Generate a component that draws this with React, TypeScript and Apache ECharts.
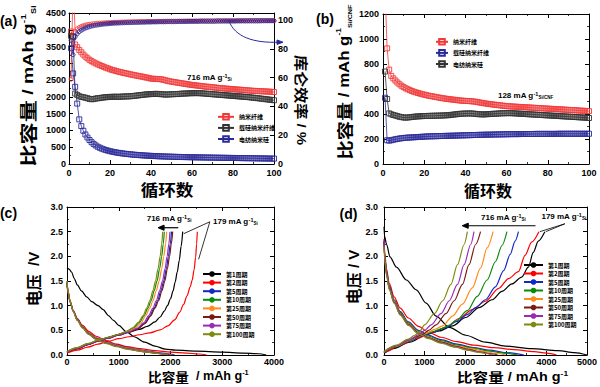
import React, { useEffect, useRef } from 'react';
import * as echarts from 'echarts';

const FONT_EN = "'Liberation Sans', Arial, Helvetica, sans-serif";
const FONT_CN = "'Noto Sans CJK SC', 'Noto Sans', sans-serif";

// ---------- panel (a): cycling, 716 mA/g ----------
const NAMES_A = ['纳米纤维', '载硅纳米纤维', '电纺纳米硅'];
const RED_A = [
  3950, 3800, 3560, 3480, 3400, 3330, 3260, 3200, 3150, 3105,
  3065, 3030, 3000, 2970, 2945, 2920, 2895, 2870, 2850, 2825,
  2805, 2790, 2770, 2755, 2740, 2725, 2710, 2700, 2685, 2670,
  2660, 2645, 2635, 2620, 2610, 2600, 2585, 2575, 2560, 2545,
  2540, 2535, 2535, 2530, 2525, 2510, 2495, 2480, 2465, 2455,
  2445, 2435, 2425, 2415, 2405, 2395, 2385, 2375, 2365, 2355,
  2350, 2340, 2335, 2325, 2320, 2310, 2305, 2300, 2290, 2285,
  2280, 2275, 2265, 2260, 2255, 2250, 2245, 2240, 2235, 2230,
  2225, 2220, 2215, 2210, 2205, 2200, 2195, 2190, 2185, 2180,
  2178, 2175, 2170, 2168, 2165, 2160, 2158, 2155, 2150, 2145,
];
const BLACK_A = [
  3820, 3780, 2100, 2060, 2020, 2000, 1990, 1975, 1960, 1940,
  1930, 1935, 1950, 1960, 1965, 1975, 1985, 1990, 1995, 2000,
  2000, 2005, 2005, 2000, 2005, 2010, 2010, 2015, 2015, 2020,
  2025, 2030, 2040, 2045, 2055, 2060, 2070, 2075, 2080, 2085,
  2085, 2090, 2090, 2085, 2080, 2075, 2070, 2070, 2075, 2080,
  2080, 2085, 2085, 2090, 2095, 2100, 2100, 2105, 2110, 2110,
  2110, 2115, 2110, 2110, 2105, 2100, 2095, 2090, 2085, 2080,
  2075, 2070, 2065, 2060, 2055, 2050, 2045, 2040, 2035, 2030,
  2025, 2020, 2015, 2010, 2005, 2000, 1995, 1990, 1980, 1975,
  1970, 1960, 1955, 1945, 1940, 1930, 1925, 1915, 1910, 1900,
];
const BLUE_A = [
  3450, 2700, 2300, 1800, 1330, 1130, 990, 880, 790, 715,
  650, 600, 555, 515, 485, 458, 435, 415, 398, 382,
  368, 355, 344, 334, 325, 316, 308, 301, 294, 288,
  282, 276, 271, 266, 262, 257, 253, 249, 246, 242,
  239, 236, 233, 230, 228, 225, 223, 221, 219, 217,
  215, 213, 211, 210, 208, 207, 205, 204, 202, 201,
  200, 198, 197, 196, 195, 194, 193, 192, 191, 190,
  189, 188, 187, 186, 185, 184, 183, 182, 181, 180,
  179, 178, 177, 176, 175, 174, 173, 172, 171, 170,
  169, 168, 167, 166, 165, 164, 163, 162, 161, 160,
];
const RED_CE_A = [
  59, 125, 92, 94, 95, 95.7, 96.2, 96.6, 96.9, 97.1,
  97.3, 97.5, 97.6, 97.8, 97.9, 98.0, 98.1, 98.2, 98.3, 98.3,
  98.4, 98.5, 98.5, 98.6, 98.6, 98.7, 98.7, 98.8, 98.8, 98.8,
  98.9, 98.9, 98.9, 99.0, 99.0, 99.0, 99.0, 99.1, 99.1, 99.1,
  99.1, 99.1, 99.2, 99.2, 99.2, 99.2, 99.2, 99.3, 99.3, 99.3,
  99.3, 99.3, 99.3, 99.4, 99.3, 99.4, 99.4, 99.4, 99.4, 99.4,
  99.4, 99.5, 99.4, 99.5, 99.5, 99.5, 99.5, 99.5, 99.5, 99.5,
  99.5, 99.5, 99.6, 99.5, 99.6, 99.6, 99.6, 99.6, 99.6, 99.6,
  99.6, 99.6, 99.6, 99.6, 99.7, 99.6, 99.7, 99.7, 99.7, 99.7,
  99.7, 99.7, 99.7, 99.7, 99.7, 99.7, 99.7, 99.7, 99.7, 99.7,
];
const BLUE_CE_A = [
  86, 76, 88.5, 90.5, 92, 93, 93.8, 94.5, 95, 95.5,
  95.9, 96.2, 96.5, 96.7, 96.9, 97.1, 97.3, 97.4, 97.5, 97.7,
  97.8, 97.9, 98.0, 98.0, 98.1, 98.2, 98.2, 98.3, 98.3, 98.4,
  98.4, 98.5, 98.5, 98.5, 98.6, 98.6, 98.6, 98.7, 98.7, 98.7,
  98.8, 98.8, 98.8, 98.9, 98.9, 98.9, 98.9, 99.0, 99.0, 99.0,
  99.0, 99.0, 99.1, 99.1, 99.1, 99.1, 99.1, 99.2, 99.2, 99.2,
  99.2, 99.2, 99.2, 99.3, 99.3, 99.3, 99.3, 99.3, 99.3, 99.3,
  99.3, 99.4, 99.4, 99.4, 99.4, 99.4, 99.4, 99.4, 99.4, 99.4,
  99.4, 99.5, 99.5, 99.5, 99.5, 99.5, 99.5, 99.5, 99.5, 99.5,
  99.5, 99.5, 99.5, 99.6, 99.6, 99.6, 99.6, 99.6, 99.6, 99.6,
];

// ---------- panel (b): cycling, 128 mA/g Si/CNF ----------
const NAMES_B = ['纳米纤维', '载硅纳米纤维', '电纺纳米硅'];
const RED_B = [
  1400, 925, 755, 705, 685, 668, 652, 638, 626, 615,
  606, 598, 591, 584, 578, 573, 568, 563, 559, 555,
  551, 547, 544, 541, 538, 535, 532, 529, 526, 524,
  521, 519, 517, 515, 513, 511, 509, 507, 506, 505,
  504, 503, 502, 500, 498, 495, 492, 489, 486, 484,
  481, 479, 477, 475, 473, 471, 469, 467, 465, 463,
  462, 461, 460, 459, 458, 457, 456, 455, 454, 453,
  452, 451, 450, 449, 448, 447, 446, 445, 444, 443,
  442, 441, 440, 439, 438, 437, 436, 435, 434, 433,
  432, 431, 430, 429, 428, 427, 426, 425, 424, 423,
];
const BLUE_B = [
  530, 190, 187, 190, 194, 198, 201, 204, 206, 208,
  210, 211, 212, 213, 214, 215, 216, 217, 218, 219,
  220, 221, 221, 222, 222, 223, 223, 224, 224, 225,
  225, 226, 226, 227, 227, 228, 228, 229, 229, 230,
  230, 231, 231, 232, 232, 233, 233, 234, 234, 235,
  235, 235, 236, 236, 236, 237, 237, 237, 238, 238,
  238, 239, 239, 239, 239, 239, 240, 240, 240, 240,
  240, 240, 240, 241, 241, 241, 241, 241, 241, 241,
  241, 241, 241, 241, 242, 242, 242, 242, 242, 242,
  242, 242, 242, 242, 242, 242, 242, 242, 242, 242,
];
const BLACK_B = [
  740, 520, 405, 398, 392, 388, 383, 378, 375, 372,
  371, 372, 374, 376, 378, 380, 381, 382, 383, 384,
  384, 385, 385, 386, 386, 387, 387, 388, 388, 389,
  390, 391, 393, 395, 397, 399, 401, 402, 403, 404,
  404, 405, 404, 403, 401, 399, 398, 397, 397, 398,
  399, 400, 401, 402, 403, 404, 405, 406, 406, 407,
  407, 407, 406, 405, 404, 403, 402, 401, 400, 399,
  398, 397, 396, 395, 394, 393, 392, 391, 390, 389,
  388, 387, 386, 385, 384, 383, 382, 381, 380, 379,
  378, 377, 376, 375, 374, 373, 372, 371, 370, 368,
];

// ---------- panels (c), (d): voltage profiles ----------
const CYCLE_NAMES = ['第1周期', '第2周期', '第5周期', '第10周期', '第25周期', '第50周期', '第75周期', '第100周期'];
const CYCLE_COLORS = ['#000000', '#ff0000', '#1428c8', '#0a8a0a', '#ff8c1a', '#7a1a14', '#9a2ab8', '#7f8a10'];

// (c) discharge [capacity, voltage]
const C_DIS_1 = [[0,1.76],[40,1.74],[90,1.68],[140,1.55],[200,1.42],[280,1.3],[380,1.18],[480,1.08],[600,1.0],[700,0.92],[800,0.8],[900,0.7],[1000,0.6],[1150,0.47],[1300,0.37],[1500,0.26],[1700,0.18],[1900,0.12],[2100,0.1],[2500,0.08],[3000,0.06],[3400,0.04],[3700,0.025],[3850,0.0]];
const C_DIS_2 = [[0,1.42],[20,1.25],[60,1.07],[120,0.9],[200,0.74],[300,0.6],[420,0.48],[560,0.38],[760,0.29],[960,0.22],[1160,0.17],[1400,0.13],[1700,0.09],[2000,0.06],[2300,0.04],[2550,0.02],[2700,0.0]];
const C_DIS_5 = [[0,1.46],[20,1.28],[60,1.09],[120,0.9],[200,0.73],[300,0.58],[420,0.45],[560,0.35],[760,0.26],[960,0.2],[1160,0.15],[1360,0.11],[1560,0.08],[1760,0.05],[1920,0.03],[2080,0.0]];
const C_DIS_10 = [[0,1.47],[20,1.29],[60,1.09],[120,0.9],[200,0.72],[300,0.57],[420,0.44],[560,0.34],[760,0.25],[960,0.19],[1160,0.14],[1360,0.1],[1560,0.07],[1760,0.04],[1900,0.02],[2050,0.0]];
const C_DIS_25 = [[0,1.5],[20,1.3],[60,1.1],[120,0.9],[200,0.72],[300,0.57],[420,0.44],[560,0.34],[760,0.25],[960,0.19],[1160,0.14],[1360,0.1],[1540,0.07],[1740,0.04],[1880,0.02],[2020,0.0]];
const C_DIS_50 = [[0,1.48],[20,1.28],[60,1.08],[120,0.89],[200,0.71],[300,0.56],[420,0.43],[560,0.33],[760,0.24],[960,0.18],[1160,0.13],[1360,0.09],[1540,0.06],[1720,0.04],[1860,0.02],[2000,0.0]];
const C_DIS_75 = [[0,1.47],[20,1.27],[60,1.07],[120,0.88],[200,0.7],[300,0.55],[420,0.42],[560,0.32],[760,0.24],[960,0.18],[1160,0.13],[1360,0.09],[1540,0.06],[1700,0.04],[1850,0.02],[1980,0.0]];
const C_DIS_100 = [[0,1.5],[20,1.29],[60,1.08],[120,0.88],[200,0.7],[300,0.55],[420,0.42],[560,0.32],[760,0.23],[960,0.17],[1160,0.12],[1340,0.09],[1520,0.06],[1680,0.04],[1820,0.02],[1950,0.0]];
// (c) charge
const C_CHG_1 = [[0,0.05],[200,0.13],[400,0.21],[600,0.29],[800,0.36],[1000,0.42],[1200,0.47],[1400,0.52],[1550,0.58],[1700,0.67],[1800,0.77],[1880,0.89],[1940,1.0],[2000,1.14],[2050,1.3],[2090,1.48],[2130,1.68],[2170,1.92],[2205,2.2],[2236,2.5]];
const C_CHG_2 = [[0,0.04],[200,0.1],[400,0.16],[600,0.22],[800,0.28],[1000,0.33],[1200,0.37],[1400,0.41],[1600,0.45],[1800,0.51],[1950,0.59],[2080,0.71],[2180,0.87],[2250,1.02],[2320,1.2],[2380,1.38],[2420,1.52],[2455,1.72],[2485,1.98],[2505,2.25],[2518,2.5]];
const C_CHG_5 = [[0,0.06],[200,0.13],[400,0.21],[600,0.28],[800,0.34],[1000,0.4],[1200,0.46],[1360,0.53],[1500,0.64],[1600,0.79],[1685,0.95],[1750,1.1],[1815,1.3],[1870,1.5],[1920,1.75],[1960,2.0],[1995,2.25],[2020,2.5]];
const C_CHG_10 = [[0,0.07],[200,0.15],[400,0.23],[600,0.3],[800,0.36],[1000,0.42],[1160,0.48],[1290,0.55],[1400,0.66],[1490,0.8],[1565,0.95],[1625,1.1],[1685,1.3],[1740,1.5],[1790,1.75],[1830,2.0],[1860,2.25],[1880,2.5]];
const C_CHG_25 = [[0,0.06],[200,0.14],[400,0.22],[600,0.29],[800,0.35],[1000,0.41],[1180,0.47],[1310,0.54],[1430,0.65],[1520,0.8],[1600,0.95],[1660,1.1],[1725,1.3],[1780,1.5],[1830,1.75],[1870,2.0],[1905,2.25],[1926,2.5]];
const C_CHG_50 = [[0,0.06],[200,0.13],[400,0.21],[600,0.28],[800,0.34],[1000,0.4],[1200,0.46],[1370,0.53],[1510,0.64],[1615,0.79],[1700,0.95],[1770,1.1],[1835,1.3],[1890,1.5],[1940,1.75],[1982,2.0],[2015,2.25],[2042,2.5]];
const C_CHG_75 = [[0,0.06],[200,0.14],[400,0.22],[600,0.29],[800,0.35],[1000,0.41],[1200,0.47],[1350,0.54],[1480,0.65],[1580,0.8],[1660,0.95],[1725,1.1],[1790,1.3],[1845,1.5],[1895,1.75],[1935,2.0],[1968,2.25],[1990,2.5]];
const C_CHG_100 = [[0,0.07],[200,0.15],[400,0.23],[600,0.3],[800,0.36],[1000,0.42],[1150,0.48],[1270,0.55],[1380,0.66],[1470,0.8],[1540,0.95],[1600,1.1],[1660,1.3],[1710,1.5],[1760,1.75],[1800,2.0],[1830,2.25],[1849,2.5]];

// (d) discharge
const D_DIS_1 = [[0,2.6],[15,2.4],[65,2.24],[146,1.99],[308,1.78],[552,1.52],[795,1.32],[1039,1.05],[1282,0.79],[1607,0.56],[2013,0.4],[2500,0.26],[2987,0.18],[3636,0.13],[4286,0.09],[4692,0.05],[5000,0.0]];
const D_DIS_2 = [[0,2.35],[20,2.05],[60,1.75],[130,1.45],[250,1.18],[400,0.95],[600,0.75],[850,0.58],[1100,0.46],[1400,0.36],[1800,0.27],[2200,0.2],[2700,0.15],[3200,0.11],[3700,0.07],[4000,0.04],[4250,0.0]];
const D_DIS_5 = [[0,2.3],[20,2.0],[60,1.7],[130,1.4],[250,1.12],[400,0.88],[600,0.67],[850,0.5],[1100,0.4],[1400,0.31],[1800,0.22],[2200,0.15],[2600,0.1],[3000,0.05],[3450,0.0]];
const D_DIS_10 = [[0,2.28],[20,1.98],[60,1.68],[130,1.38],[250,1.1],[400,0.86],[600,0.65],[850,0.48],[1100,0.38],[1400,0.29],[1800,0.2],[2200,0.14],[2600,0.08],[2950,0.04],[3300,0.0]];
const D_DIS_25 = [[0,2.25],[20,1.95],[60,1.65],[130,1.35],[250,1.08],[400,0.84],[600,0.63],[850,0.46],[1100,0.36],[1400,0.27],[1800,0.18],[2200,0.12],[2500,0.07],[2750,0.03],[3000,0.0]];
const D_DIS_50 = [[0,2.3],[20,1.97],[60,1.66],[130,1.35],[250,1.07],[400,0.83],[600,0.62],[850,0.45],[1100,0.35],[1400,0.26],[1800,0.17],[2100,0.11],[2400,0.06],[2600,0.03],[2800,0.0]];
const D_DIS_75 = [[0,2.32],[20,1.98],[60,1.66],[130,1.34],[250,1.06],[400,0.82],[600,0.61],[850,0.44],[1100,0.34],[1400,0.25],[1800,0.16],[2100,0.1],[2350,0.06],[2550,0.03],[2700,0.0]];
const D_DIS_100 = [[0,2.2],[20,1.92],[60,1.62],[130,1.32],[250,1.05],[400,0.81],[600,0.6],[850,0.43],[1100,0.33],[1400,0.24],[1750,0.16],[2050,0.1],[2300,0.06],[2500,0.03],[2650,0.0]];
// (d) charge
const D_CHG_1 = [[0,0.03],[227,0.13],[633,0.26],[1039,0.41],[1364,0.49],[1688,0.59],[2013,0.76],[2338,0.96],[2662,1.12],[2906,1.29],[3150,1.44],[3393,1.58],[3555,1.78],[3677,2.08],[3800,2.31],[3961,2.5]];
const D_CHG_2 = [[0,0.05],[65,0.07],[390,0.2],[795,0.33],[1201,0.46],[1526,0.56],[1851,0.74],[2175,0.92],[2500,1.09],[2825,1.35],[3068,1.55],[3312,1.69],[3474,2.02],[3636,2.29],[3815,2.5]];
const D_CHG_5 = [[0,0.05],[300,0.17],[600,0.27],[900,0.38],[1200,0.46],[1500,0.55],[1800,0.68],[2050,0.82],[2256,0.96],[2500,1.12],[2743,1.38],[2946,1.71],[3109,2.04],[3230,2.31],[3312,2.5]];
const D_CHG_10 = [[0,0.05],[300,0.17],[600,0.28],[900,0.39],[1200,0.47],[1400,0.53],[1600,0.6],[1769,0.69],[2054,0.9],[2297,1.19],[2540,1.52],[2743,1.89],[2906,2.22],[3028,2.5]];
const D_CHG_25 = [[0,0.06],[300,0.18],[600,0.29],[850,0.38],[1039,0.44],[1250,0.52],[1445,0.59],[1688,0.79],[1932,1.03],[2175,1.36],[2378,1.76],[2540,2.17],[2687,2.5]];
const D_CHG_50 = [[0,0.06],[300,0.19],[600,0.3],[800,0.37],[958,0.42],[1100,0.5],[1282,0.61],[1526,0.84],[1729,1.1],[1932,1.43],[2094,1.83],[2256,2.24],[2378,2.5]];
const D_CHG_75 = [[0,0.06],[300,0.19],[600,0.3],[877,0.42],[1000,0.5],[1161,0.61],[1404,0.84],[1607,1.1],[1810,1.43],[1972,1.83],[2135,2.24],[2216,2.5]];
const D_CHG_100 = [[0,0.07],[300,0.2],[600,0.32],[755,0.4],[880,0.48],[998,0.61],[1242,0.84],[1445,1.1],[1648,1.43],[1810,1.83],[1972,2.24],[2054,2.5]];

const C_DIS = [C_DIS_1, C_DIS_2, C_DIS_5, C_DIS_10, C_DIS_25, C_DIS_50, C_DIS_75, C_DIS_100];
const C_CHG = [C_CHG_1, C_CHG_2, C_CHG_5, C_CHG_10, C_CHG_25, C_CHG_50, C_CHG_75, C_CHG_100];
const D_DIS = [D_DIS_1, D_DIS_2, D_DIS_5, D_DIS_10, D_DIS_25, D_DIS_50, D_DIS_75, D_DIS_100];
const D_CHG = [D_CHG_1, D_CHG_2, D_CHG_5, D_CHG_10, D_CHG_25, D_CHG_50, D_CHG_75, D_CHG_100];

const RED = '#f03a3a';
const BLUE = '#2a2a9a';
const GREY = '#333333';

const withCycle = (ys: number[]) => ys.map((v, i) => [i + 1, v]);

function axis(gridIndex: number, position: string, min: number, max: number, interval: number, showLabel: boolean, margin = 4, extra: any = {}) {
  return {
    type: 'value', gridIndex, position, min, max, interval,
    axisLine: { show: true, onZero: false, lineStyle: { color: '#000', width: 1 } },
    axisTick: { show: true, inside: true, length: 4, lineStyle: { color: '#000', width: 1 } },
    minorTick: { show: true, splitNumber: 2, length: 2, lineStyle: { color: '#000', width: 0.8 } },
    splitLine: { show: false },
    minorSplitLine: { show: false },
    axisLabel: {
      show: showLabel, color: '#000', fontFamily: FONT_EN, fontWeight: 'bold', fontSize: 9, margin, lineHeight: 10,
      formatter: (v: number) => String(v),
      ...(extra.axisLabel || {}),
    },
    ...(extra.rest || {}),
  };
}

function markerSeries(name: string, ys: number[], color: string, xi: number, yi: number, symbol: string, size: number, z = 2) {
  return {
    type: 'line', name, data: withCycle(ys), xAxisIndex: xi, yAxisIndex: yi,
    symbol, symbolSize: size, showSymbol: true, showAllSymbol: true, clip: true,
    lineStyle: { color, width: 0.8 },
    itemStyle: { color: 'rgba(255,255,255,0)', borderColor: color, borderWidth: 0.9 },
    emphasis: { disabled: true }, z, animation: false,
  };
}

function profileSeries(name: string, data: number[][], color: string, idx: number) {
  return {
    type: 'line', name, data, xAxisIndex: idx, yAxisIndex: idx,
    symbol: 'none', smooth: 0.3, smoothMonotone: 'x', clip: true,
    lineStyle: { color, width: 1.2 }, itemStyle: { color },
    emphasis: { disabled: true }, animation: false,
  };
}

const legendText = { color: '#000', fontFamily: FONT_CN, fontWeight: 'bold', fontSize: 6 };

const richBase = (cn: number, en: number, sup: number, lh = cn + 1) => ({
  cn: { fontFamily: FONT_CN, fontWeight: 'bold', fontSize: cn, lineHeight: lh, fill: '#000' },
  en: { fontFamily: FONT_EN, fontWeight: 'bold', fontSize: en, lineHeight: lh, fill: '#000' },
  sp: { fontFamily: FONT_EN, fontSize: en, lineHeight: lh },
  sup: { fontFamily: FONT_EN, fontWeight: 'bold', fontSize: sup, verticalAlign: 'top', lineHeight: sup + 1, fill: '#000' },
  sub: { fontFamily: FONT_EN, fontWeight: 'bold', fontSize: sup - 1, verticalAlign: 'bottom', lineHeight: sup + 1, fill: '#000' },
});

function label(x: number, y: number, text: string, rich: any, o: any = {}) {
  return {
    type: 'text', x, y, rotation: o.rotation || 0, scaleX: o.scaleX || 1, scaleY: o.scaleY || 1, silent: true, z: 100,
    style: { text, rich, align: o.align || 'center', verticalAlign: 'middle', fill: '#000', fontFamily: FONT_EN, fontWeight: 'bold', fontSize: o.fontSize || 10 },
  };
}

function arrowHead(tip: number[], dir: number, len = 6, half = 2.5, color = '#000') {
  return {
    type: 'polygon', silent: true, z: 100,
    shape: { points: [[tip[0], tip[1]], [tip[0] - dir * len, tip[1] - half], [tip[0] - dir * len, tip[1] + half]] },
    style: { fill: color, stroke: color },
  };
}

function seg(p: number[], q: number[], color = '#000', w = 0.8) {
  return { type: 'line', silent: true, z: 100, shape: { x1: p[0], y1: p[1], x2: q[0], y2: q[1] }, style: { stroke: color, lineWidth: w } };
}

export default function App() {
  const ref = useRef<HTMLDivElement>(null);
  useEffect(() => {
    if (!ref.current) return;
    const chart = echarts.init(ref.current, undefined, { renderer: 'svg' });
    const grids = [
      { left: 69, top: 13, width: 205, height: 151 },
      { left: 383, top: 14, width: 206, height: 150 },
      { left: 67, top: 207, width: 207, height: 148 },
      { left: 384, top: 207, width: 205, height: 148 },
    ];
    const fmt1 = (v: number) => v.toFixed(1);
    const xAxis = [
      axis(0, 'bottom', 0, 100, 20, true, 4),
      axis(0, 'top', 0, 100, 20, false),
      axis(1, 'bottom', 0, 100, 20, true, 4),
      axis(1, 'top', 0, 100, 20, false),
      axis(2, 'bottom', 0, 4000, 1000, true, 2),
      axis(2, 'top', 0, 4000, 1000, false),
      axis(3, 'bottom', 0, 5000, 1000, true, 2),
      axis(3, 'top', 0, 5000, 1000, false),
    ];
    const yAxis = [
      axis(0, 'left', 0, 4500, 500, true, 3),
      axis(0, 'right', 0, 105, 20, true, 4, { axisLabel: { showMaxLabel: false }, rest: { minorTick: { show: false } } }),
      axis(1, 'left', 0, 1200, 200, true, 4),
      axis(1, 'right', 0, 1200, 200, false),
      axis(2, 'left', 0, 3, 0.5, true, 4, { axisLabel: { formatter: fmt1 } }),
      axis(2, 'right', 0, 3, 0.5, false),
      axis(3, 'left', 0, 3, 0.5, true, 6, { axisLabel: { formatter: fmt1 } }),
      axis(3, 'right', 0, 3, 0.5, false),
    ];
    const series: any[] = [
      markerSeries(NAMES_A[0], RED_A, RED, 0, 0, 'rect', 5),
      markerSeries(NAMES_A[1], BLACK_A, GREY, 0, 0, 'rect', 5),
      markerSeries(NAMES_A[2], BLUE_A, BLUE, 0, 0, 'rect', 5),
      markerSeries('CE-red', RED_CE_A, RED, 0, 1, 'circle', 4, 3),
      markerSeries('CE-blue', BLUE_CE_A, BLUE, 0, 1, 'circle', 4, 3),
      markerSeries(NAMES_B[0] + '\u200b', RED_B, RED, 2, 2, 'rect', 5),
      markerSeries(NAMES_B[1] + '\u200b', BLUE_B, BLUE, 2, 2, 'rect', 5),
      markerSeries(NAMES_B[2] + '\u200b', BLACK_B, GREY, 2, 2, 'rect', 5),
    ];
    CYCLE_NAMES.forEach((n, i) => {
      series.push(profileSeries(n, C_DIS[i], CYCLE_COLORS[i], 4));
      series.push(profileSeries(n, C_CHG[i], CYCLE_COLORS[i], 4));
    });
    CYCLE_NAMES.forEach((n, i) => {
      series.push(profileSeries(n, D_DIS[i], CYCLE_COLORS[i], 6));
      series.push(profileSeries(n, D_CHG[i], CYCLE_COLORS[i], 6));
    });
    const strip = (n: string) => n.replace(/\u200b/g, '');
    const legend = [
      { orient: 'vertical', left: 217, top: 113, itemWidth: 16, itemHeight: 7, itemGap: 3.5, data: NAMES_A, textStyle: legendText, selectedMode: false, padding: 0 },
      { orient: 'vertical', left: 435, top: 38, itemWidth: 12, itemHeight: 7, itemGap: 3.5, data: NAMES_B.map((n) => n + '\u200b'), formatter: strip, textStyle: legendText, selectedMode: false, padding: 0 },
      { orient: 'vertical', left: 202, top: 271, itemWidth: 18, itemHeight: 7, itemGap: 2.6, data: CYCLE_NAMES, textStyle: legendText, selectedMode: false, padding: 0 },
      { orient: 'vertical', left: 523, top: 262, itemWidth: 19, itemHeight: 7, itemGap: 2.5, data: CYCLE_NAMES, textStyle: legendText, selectedMode: false, padding: 0 },
    ];
    chart.setOption({
      animation: false,
      backgroundColor: '#fff',
      grid: grids,
      xAxis, yAxis, series, legend,
    });

    const px = (xi: number, yi: number, p: number[]) => chart.convertToPixel({ xAxisIndex: xi, yAxisIndex: yi } as any, p) as number[];
    const small = richBase(8, 8, 5.5);
    const els: any[] = [];
    els.push(label(8.5, 21, '(a)', {}, { fontSize: 14 }));
    els.push(label(325, 19, '(b)', {}, { fontSize: 14 }));
    els.push(label(8.5, 213, '(c)', {}, { fontSize: 14 }));
    els.push(label(348.5, 214, '(d)', {}, { fontSize: 14 }));
    els.push(label(28, 86, '{cn|比容量}{sp| }{en|/ mAh g}{sup|-1}{sub|Si}', richBase(17, 15, 8), { rotation: Math.PI / 2, scaleX: 1.3 }));
    els.push(label(302, 100, '{cn|库仑效率}{sp| }{en|/ %}', richBase(14, 13, 8), { rotation: -Math.PI / 2, scaleX: 1.15 }));
    els.push(label(167, 189.5, '{cn|循环数}', richBase(16, 14, 8, 16), { scaleX: 1.1 }));
    els.push(label(344, 82, '{cn|比容量}{sp| }{en|/ mAh g}{sup|-1}{sub|Si/CNF}', richBase(16, 14, 7), { rotation: Math.PI / 2, scaleX: 1.2 }));
    els.push(label(488, 189.5, '{cn|循环数}', richBase(16, 14, 8, 16)));
    els.push(label(33, 279, '{cn|电压}{sp|  }{en|/V}', richBase(16, 15, 8), { rotation: Math.PI / 2 }));
    els.push(label(353, 277, '{cn|电压}{sp| }{en|/ V}', richBase(16, 15, 8), { rotation: Math.PI / 2 }));
    els.push(label(148, 376.5, '{cn|比容量}{sp|  }{en|/ mAh g}{sup|-1}', richBase(13, 12, 7, 13), { align: 'left', scaleX: 1.05 }));
    els.push(label(457, 376.5, '{cn|比容量}{sp| }{en|/ mAh g}{sup|-1}', richBase(13, 12, 7, 13), { align: 'left', scaleX: 1.2 }));

    const a716 = px(0, 0, [57.6, 2563]);
    els.push(label(a716[0], a716[1], '{en|716 mA g}{sup|-1}{sub|Si}', small, { align: 'left' }));
    const ceStart = px(0, 1, [78, RED_CE_A[77]]);
    const ceEnd0 = px(0, 1, [100, 84.7]);
    const ceEnd = [ceEnd0[0] + 9, ceEnd0[1]];
    els.push({
      type: 'bezierCurve', silent: true, z: 100,
      shape: { x1: ceStart[0], y1: ceStart[1], cpx1: ceStart[0] + 6, cpy1: ceStart[1] + 16, cpx2: ceEnd[0] - 30, cpy2: ceEnd[1] + 1, x2: ceEnd[0] - 4, y2: ceEnd[1] },
      style: { stroke: BLUE, lineWidth: 1, fill: 'none' },
    });
    els.push(arrowHead(ceEnd, 1, 6, 2.2, BLUE));

    const b128 = px(2, 2, [55.8, 552]);
    els.push(label(b128[0], b128[1], '{en|128 mA g}{sup|-1}{sub|Si/CNF}', small, { align: 'left' }));

    const c716 = px(4, 4, [1540, 2.76]);
    els.push(label(c716[0], c716[1], '{en|716 mA g}{sup|-1}{sub|Si}', small, { align: 'left' }));
    const cA1 = px(4, 4, [2150, 2.58]);
    const cA2 = px(4, 4, [1760, 2.58]);
    els.push(seg(cA1, [cA2[0] + 5, cA2[1]], '#000', 1.2));
    els.push(arrowHead(cA2, -1, 6, 2.6));
    const c179 = px(4, 4, [2821, 2.7]);
    els.push(label(c179[0], c179[1], '{en|179 mA g}{sup|-1}{sub|Si}', small, { align: 'left' }));
    const cHub = px(4, 4, [2760, 2.7]);
    const cTop1 = px(4, 4, C_CHG_1[C_CHG_1.length - 1]);
    const cTop2 = px(4, 4, C_CHG_2[C_CHG_2.length - 3]);
    els.push(seg(cHub, [cTop1[0] + 1, cTop1[1] + 2]));
    els.push(seg(cHub, [cTop2[0] + 3, cTop2[1] + 2]));

    const d716 = px(6, 6, [2390, 2.78]);
    els.push(label(d716[0], d716[1], '{en|716 mA g}{sup|-1}{sub|Si}', small, { align: 'left' }));
    const dA1 = px(6, 6, [3732, 2.62]);
    const dA2 = px(6, 6, [1927, 2.62]);
    els.push(seg(dA1, [dA2[0] + 5, dA2[1]], '#000', 1.2));
    els.push(arrowHead(dA2, -1, 6, 2.6));
    const d179 = px(6, 6, [3878, 2.8]);
    els.push(label(d179[0], d179[1], '{en|179 mA g}{sup|-1}{sub|Si}', small, { align: 'left' }));
    const dHub = px(6, 6, [4456, 2.66]);
    const dTop1 = px(6, 6, D_CHG_1[D_CHG_1.length - 1]);
    const dTop2 = px(6, 6, D_CHG_2[D_CHG_2.length - 1]);
    els.push(seg(dHub, [dTop1[0] + 1, dTop1[1]]));
    els.push(seg(dHub, [dTop2[0] + 1, dTop2[1]]));

    chart.setOption({ graphic: { elements: els } });
    return () => chart.dispose();
  }, []);
  return <div ref={ref} style={{ position: 'absolute', left: 0, top: 0, width: 600, height: 387, background: '#fff' }} />;
}
